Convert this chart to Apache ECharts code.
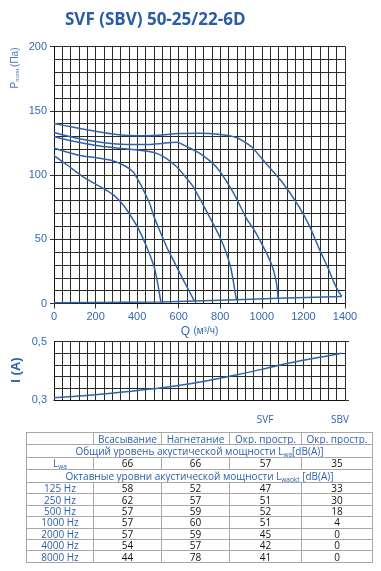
<!DOCTYPE html>
<html>
<head>
<meta charset="utf-8">
<script src="https://cdn.jsdelivr.net/npm/echarts@6/dist/echarts.min.js"></script>
<style>
  html, body { margin: 0; padding: 0; background: #fff; }
  #chart { position: absolute; left: 0; top: 0; width: 381px; height: 571px; }
  #noise { position: absolute; left: 26px; top: 432px; border-collapse: collapse; table-layout: fixed;
           font-family: 'Open Sans', sans-serif; font-size: 10px; }
  #noise td { border: 1px solid #a8a8a8; padding: 0; text-align: center; line-height: 10px;
              color: #111; white-space: nowrap; overflow: hidden; }
  #noise td.blue { color: #2d62ab; }
  #noise sub { font-size: 6.5px; vertical-align: -2px; line-height: 0; }
  .hdr { position: absolute; top: 412px; font-family: 'Open Sans', sans-serif; font-size: 10px; color: #2d62ab;
         transform: translateX(-50%); }
</style>
</head>
<body>
<div id="chart"></div>
<div class="hdr" style="left:265px">SVF</div>
<div class="hdr" style="left:340px">SBV</div>
<table id="noise"></table>
<script>
// fan curves, Q (m3/h) vs P (Pa)
const pressureCurve1 = [[0,140],[100,137],[200,134],[300,131.5],[400,130.5],[500,131],[600,132.3],[700,132.5],[800,131.5],[880,129],[950,122],[1020,109],[1100,94],[1180,75],[1230,60],[1280,41],[1320,27],[1345,17],[1370,9],[1385,5.5]];
const pressureCurve2 = [[0,133],[100,129],[200,126],[300,124.2],[400,123.7],[460,123.8],[530,124.8],[590,125.4],[640,122],[700,117],[780,106.4],[860,87],[930,65],[960,58],[1020,40],[1050,29],[1068,18],[1075,10],[1078,4]];
const pressureCurve3 = [[0,130],[100,126],[220,122.5],[300,121],[380,119.9],[450,118.5],[494,116.8],[540,113],[590,106.4],[630,99],[670,90.8],[720,76],[766,62],[800,51],[830,39],[850,28],[862,18],[872,8],[878,3]];
const pressureCurve4 = [[0,121],[70,117.5],[140,114.7],[200,113.5],[270,111.6],[330,108],[380,102.5],[414,93.4],[440,85],[462,77],[480,68],[500,60],[542,44],[574,33.7],[620,19],[675,2]];
const pressureCurve5 = [[0,115],[70,107],[140,98.6],[237,89.6],[290,84],[333,76.6],[370,68],[405,58.4],[446,44],[470,34],[486,26],[502,13],[510,5],[515,1.2]];
const systemLine = [[0,0.5],[515,1.2],[675,2],[878,3],[1078,4],[1385,5.5]];
// current, Q (m3/h) vs I (A)
const currentCurve = [[0,0.308],[200,0.318],[380,0.331],[500,0.34],[638,0.354],[750,0.368],[862,0.384],[1000,0.405],[1103,0.423],[1250,0.443],[1384,0.46]];

// noise table
const columnHeads = ['', 'Всасывание', 'Нагнетание', 'Окр. простр.', 'Окр. простр.'];
const totalLevels = [66, 66, 57, 35];
const freqLabels = ['125 Hz', '250 Hz', '500 Hz', '1000 Hz', '2000 Hz', '4000 Hz', '8000 Hz'];
const suctionLevels = [58, 62, 57, 57, 57, 54, 44];
const dischargeLevels = [52, 57, 59, 60, 59, 57, 78];
const svfAmbientLevels = [47, 51, 52, 51, 45, 42, 41];
const sbvAmbientLevels = [33, 30, 18, 4, 0, 0, 0];

const axisBlue = '#3468b0';
const curveBlue = '#2f64a8';
const gridColor = '#2a2a2a';

const chart = echarts.init(document.getElementById('chart'));

const curveSeries = [pressureCurve1, pressureCurve2, pressureCurve3, pressureCurve4, pressureCurve5, systemLine].map((d, i) => ({
  type: 'line',
  xAxisIndex: 0,
  yAxisIndex: 0,
  data: d,
  showSymbol: false,
  smooth: i === 5 ? false : 0.2,
  lineStyle: { color: curveBlue, width: 1.5 },
}));

chart.setOption({
  animation: false,
  title: {
    text: 'SVF (SBV) 50-25/22-6D',
    left: 60,
    top: 7,
    textStyle: { fontFamily: 'Open Sans', fontWeight: 'bold', fontSize: 17, color: '#2a5ca8' },
  },
  grid: [
    { left: 54, top: 46.5, width: 291, height: 257 },
    { left: 54, top: 341.7, width: 291, height: 58.3 },
  ],
  xAxis: [
    {
      gridIndex: 0, type: 'value', min: 0, max: 1400, interval: 200,
      name: '{q|Q} {u|(м³/ч)}', nameLocation: 'middle', nameGap: 22,
      nameTextStyle: { rich: {
        q: { fontFamily: 'Liberation Sans', fontSize: 12, color: axisBlue },
        u: { fontFamily: 'Liberation Sans', fontSize: 10, color: axisBlue },
      } },
      axisLine: { lineStyle: { color: '#111' } },
      axisTick: { length: 5, lineStyle: { color: '#333' } },
      axisLabel: { color: axisBlue, fontSize: 11, fontFamily: 'Liberation Sans', margin: 8, formatter: (v) => String(v) },
      splitLine: { lineStyle: { color: gridColor } },
      minorTick: { show: false, splitNumber: 5 },
      minorSplitLine: { show: true, lineStyle: { color: gridColor } },
    },
    {
      gridIndex: 1, type: 'value', min: 0, max: 1400, interval: 200,
      axisLine: { lineStyle: { color: '#111' } },
      axisTick: { show: false },
      axisLabel: { show: false },
      splitLine: { lineStyle: { color: gridColor } },
      minorTick: { show: false, splitNumber: 5 },
      minorSplitLine: { show: true, lineStyle: { color: gridColor } },
    },
  ],
  yAxis: [
    {
      gridIndex: 0, type: 'value', min: 0, max: 200, interval: 50,
      axisLine: { show: true, lineStyle: { color: '#111' } },
      axisTick: { show: true, length: 4, lineStyle: { color: '#333' } },
      axisLabel: { color: axisBlue, fontSize: 11, fontFamily: 'Liberation Sans', margin: 7 },
      splitLine: { lineStyle: { color: gridColor } },
      minorTick: { show: false, splitNumber: 5 },
      minorSplitLine: { show: true, lineStyle: { color: gridColor } },
    },
    {
      gridIndex: 1, type: 'value', min: 0.3, max: 0.5, interval: 0.1,
      axisLine: { show: true, lineStyle: { color: '#111' } },
      axisTick: { show: false },
      axisLabel: {
        color: axisBlue, fontSize: 11, fontFamily: 'Liberation Sans', margin: 7,
        formatter: (v) => (Math.abs(v - 0.4) < 1e-6 ? '' : v.toFixed(1).replace('.', ',')),
      },
      splitLine: { show: false },
    },
    {
      // grid lines of the current chart, 0.04 A apart
      gridIndex: 1, type: 'value', min: 0, max: 5, interval: 1,
      axisLine: { show: false }, axisTick: { show: false }, axisLabel: { show: false },
      splitLine: { show: true, lineStyle: { color: gridColor } },
    },
    {
      // ticks at 0,3 and 0,5
      gridIndex: 1, type: 'value', min: 0, max: 1, interval: 1,
      axisLine: { show: false }, axisLabel: { show: false }, splitLine: { show: false },
      axisTick: { show: true, length: 4, lineStyle: { color: '#333' } },
    },
  ],
  graphic: [
    {
      type: 'text', x: 15, y: 68, rotation: Math.PI / 2,
      style: {
        text: '{p|P}{s|полн.}{p|(Па)}', align: 'center', verticalAlign: 'middle',
        rich: {
          p: { fontFamily: 'Liberation Sans', fontSize: 10, fill: '#4a7cc0' },
          s: { fontFamily: 'Liberation Sans', fontSize: 6, fill: '#4a7cc0', padding: [4, 0, 0, 0] },
        },
      },
    },
    {
      type: 'text', x: 16, y: 370, rotation: Math.PI / 2,
      style: { text: 'I (A)', align: 'center', verticalAlign: 'middle',
               font: 'bold 13px Liberation Sans', fill: '#2d62ab' },
    },
  ],
  series: [
    ...curveSeries,
    {
      type: 'line', xAxisIndex: 1, yAxisIndex: 1, data: currentCurve,
      showSymbol: false, smooth: 0.3, lineStyle: { color: curveBlue, width: 1.5 },
    },
  ],
});

// table
const table = document.getElementById('noise');
const colWidths = [67, 68, 68, 72, 71];
let html = '<colgroup>' + colWidths.map((w) => `<col style="width:${w}px">`).join('') + '</colgroup>';
html += '<tr style="height:12px">' + columnHeads.map((h) => `<td class="blue">${h}</td>`).join('') + '</tr>';
html += '<tr style="height:12.5px"><td class="blue" colspan="5">Общий уровень акустической мощности L<sub>wa</sub>[dB(A)]</td></tr>';
html += '<tr style="height:12.5px"><td class="blue">L<sub>wa</sub></td>' + totalLevels.map((v) => `<td>${v}</td>`).join('') + '</tr>';
html += '<tr style="height:13px"><td class="blue" colspan="5">Октавные уровни акустической мощности L<sub>waokt</sub> [dB(A)]</td></tr>';
freqLabels.forEach((f, i) => {
  html += `<tr style="height:11.4px"><td class="blue">${f}</td><td>${suctionLevels[i]}</td><td>${dischargeLevels[i]}</td><td>${svfAmbientLevels[i]}</td><td>${sbvAmbientLevels[i]}</td></tr>`;
});
table.innerHTML = html;
</script>
</body>
</html>
